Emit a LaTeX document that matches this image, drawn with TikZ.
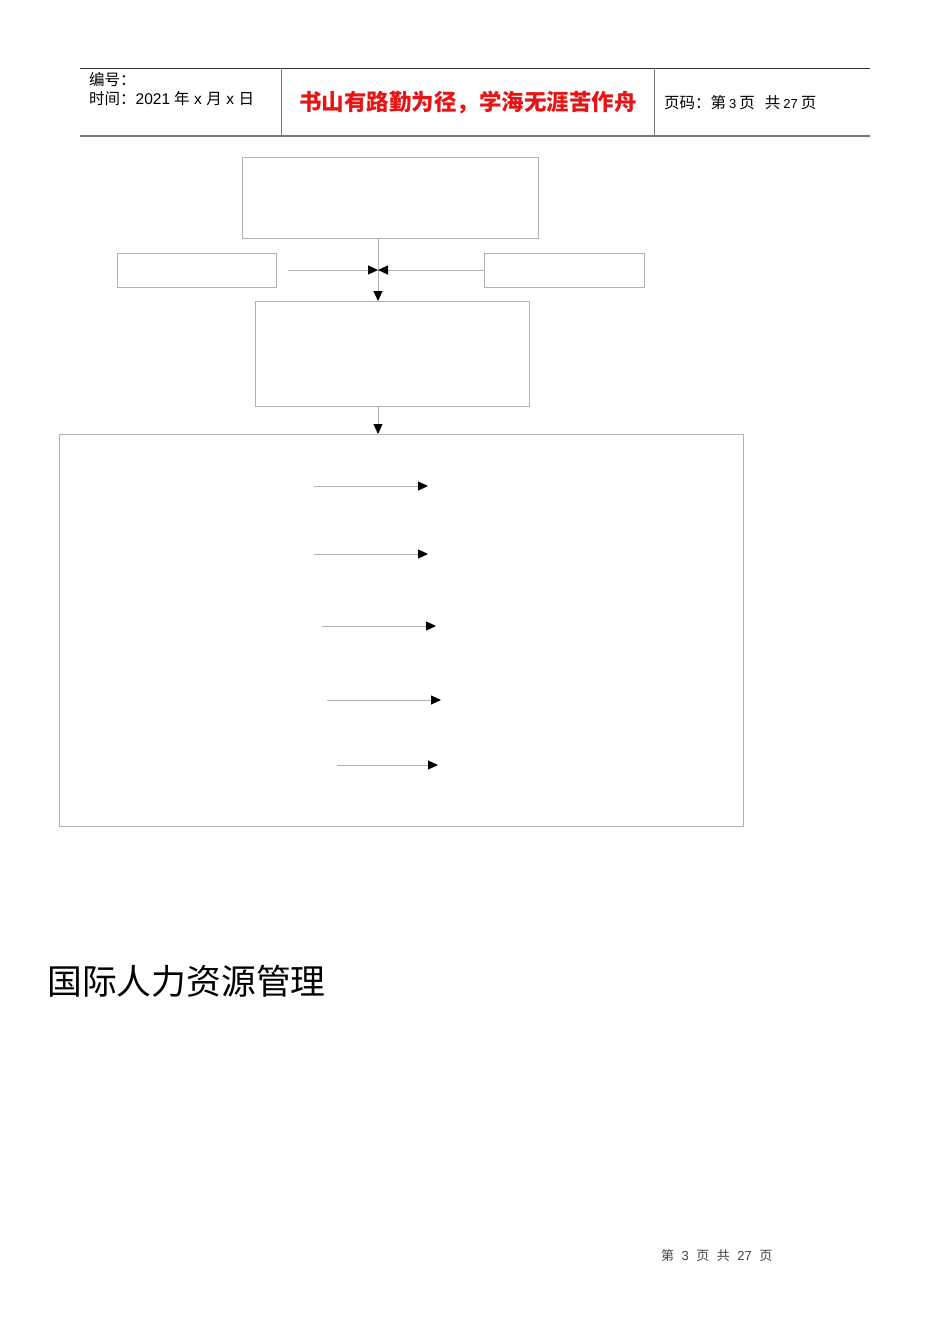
\documentclass[tikz,border=0pt]{standalone}
\usepackage{fontspec}
\setmainfont{Liberation Sans}
\newfontfamily\cjk{Noto Sans CJK SC}
\usetikzlibrary{arrows.meta}
\definecolor{boxgray}{RGB}{178,178,178}
\definecolor{hdrgray}{RGB}{120,120,120}
\definecolor{redtxt}{RGB}{230,20,20}
\tikzset{
  frame/.style={draw=boxgray, line width=0.9pt, fill=none, inner sep=0pt, anchor=north west},
  link/.style={draw=boxgray, line width=0.9pt, -{Triangle[length=10pt,width=9pt,color=black]}},
  hdrline/.style={draw=hdrgray, line width=1pt},
  txt/.style={inner sep=0pt, anchor=west}
}
\begin{document}
\begin{tikzpicture}[x=1pt,y=-1pt]
\useasboundingbox (0,0) rectangle (950,1344);
% header
\draw[draw=black!80, line width=0.8pt] (80,68) -- (870,68);
\draw[draw=hdrgray, line width=2pt] (80,135.5) -- (870,135.5);
\draw[hdrline] (281,68) -- (281,135);
\draw[hdrline] (654,68) -- (654,135);
\node[txt] (hno) at (89,80) {\fontsize{15.5}{15.5}\selectfont\cjk 编号：};
\node[txt] (htime) at (89,99) {\fontsize{15.5}{15.5}\selectfont{\cjk 时间：}2021\hspace{4pt}{\cjk 年}\hspace{4.5pt}x\hspace{4.5pt}{\cjk 月}\hspace{4.5pt}x\hspace{4.5pt}{\cjk 日}};
\node[inner sep=0pt, text=redtxt] (hmotto) at (468,103) {\fontsize{22.5}{22.5}\selectfont\cjk\bfseries 书山有路勤为径，学海无涯苦作舟};
\node[txt] (hpage) at (664,103) {\fontsize{15.5}{15.5}\selectfont{\cjk 页码：第}\hspace{3pt}{\fontsize{13}{13}\selectfont 3}\hspace{3pt}{\cjk 页}\hspace{10pt}{\cjk 共}\hspace{3pt}{\fontsize{13}{13}\selectfont 27}\hspace{3pt}{\cjk 页}};
% boxes
\node[frame, minimum width=296pt, minimum height=81pt] (top) at (242,157) {};
\node[frame, minimum width=159pt, minimum height=34pt] (left) at (117,253) {};
\node[frame, minimum width=160pt, minimum height=34pt] (right) at (484,253) {};
\node[frame, minimum width=274pt, minimum height=105pt] (mid) at (255,301) {};
\node[frame, minimum width=684pt, minimum height=392pt] (big) at (59,434) {};
% connectors
\coordinate (lstart) at (288,270);
\coordinate (meet) at (378,270);
\coordinate (topout) at (378,238);
\coordinate (midin) at (378,301);
\coordinate (midout) at (378,406);
\coordinate (bigin) at (378,434);
\draw[link] (topout) -- (midin);
\draw[link] (lstart) -- (meet);
\draw[link] (right.west |- meet) -- (meet);
\draw[link] (midout) -- (bigin);
% inner arrows
\coordinate (a1s) at (314,486); \coordinate (a1e) at (428,486);
\coordinate (a2s) at (314,554); \coordinate (a2e) at (428,554);
\coordinate (a3s) at (322,626); \coordinate (a3e) at (436,626);
\coordinate (a4s) at (327,700); \coordinate (a4e) at (441,700);
\coordinate (a5s) at (337,765); \coordinate (a5e) at (438,765);
\draw[link] (a1s) -- (a1e);
\draw[link] (a2s) -- (a2e);
\draw[link] (a3s) -- (a3e);
\draw[link] (a4s) -- (a4e);
\draw[link] (a5s) -- (a5e);
% title
\node[txt] (title) at (47,981) {\fontsize{34.8}{34.8}\selectfont\cjk 国际人力资源管理};
% footer
\node[txt, text=black!75] (foot) at (661,1256) {\fontsize{13}{13}\selectfont{\cjk 第}\hspace{7.5pt}3\hspace{7.5pt}{\cjk 页}\hspace{7.5pt}{\cjk 共}\hspace{7.5pt}27\hspace{7.5pt}{\cjk 页}};
\end{tikzpicture}
\end{document}
